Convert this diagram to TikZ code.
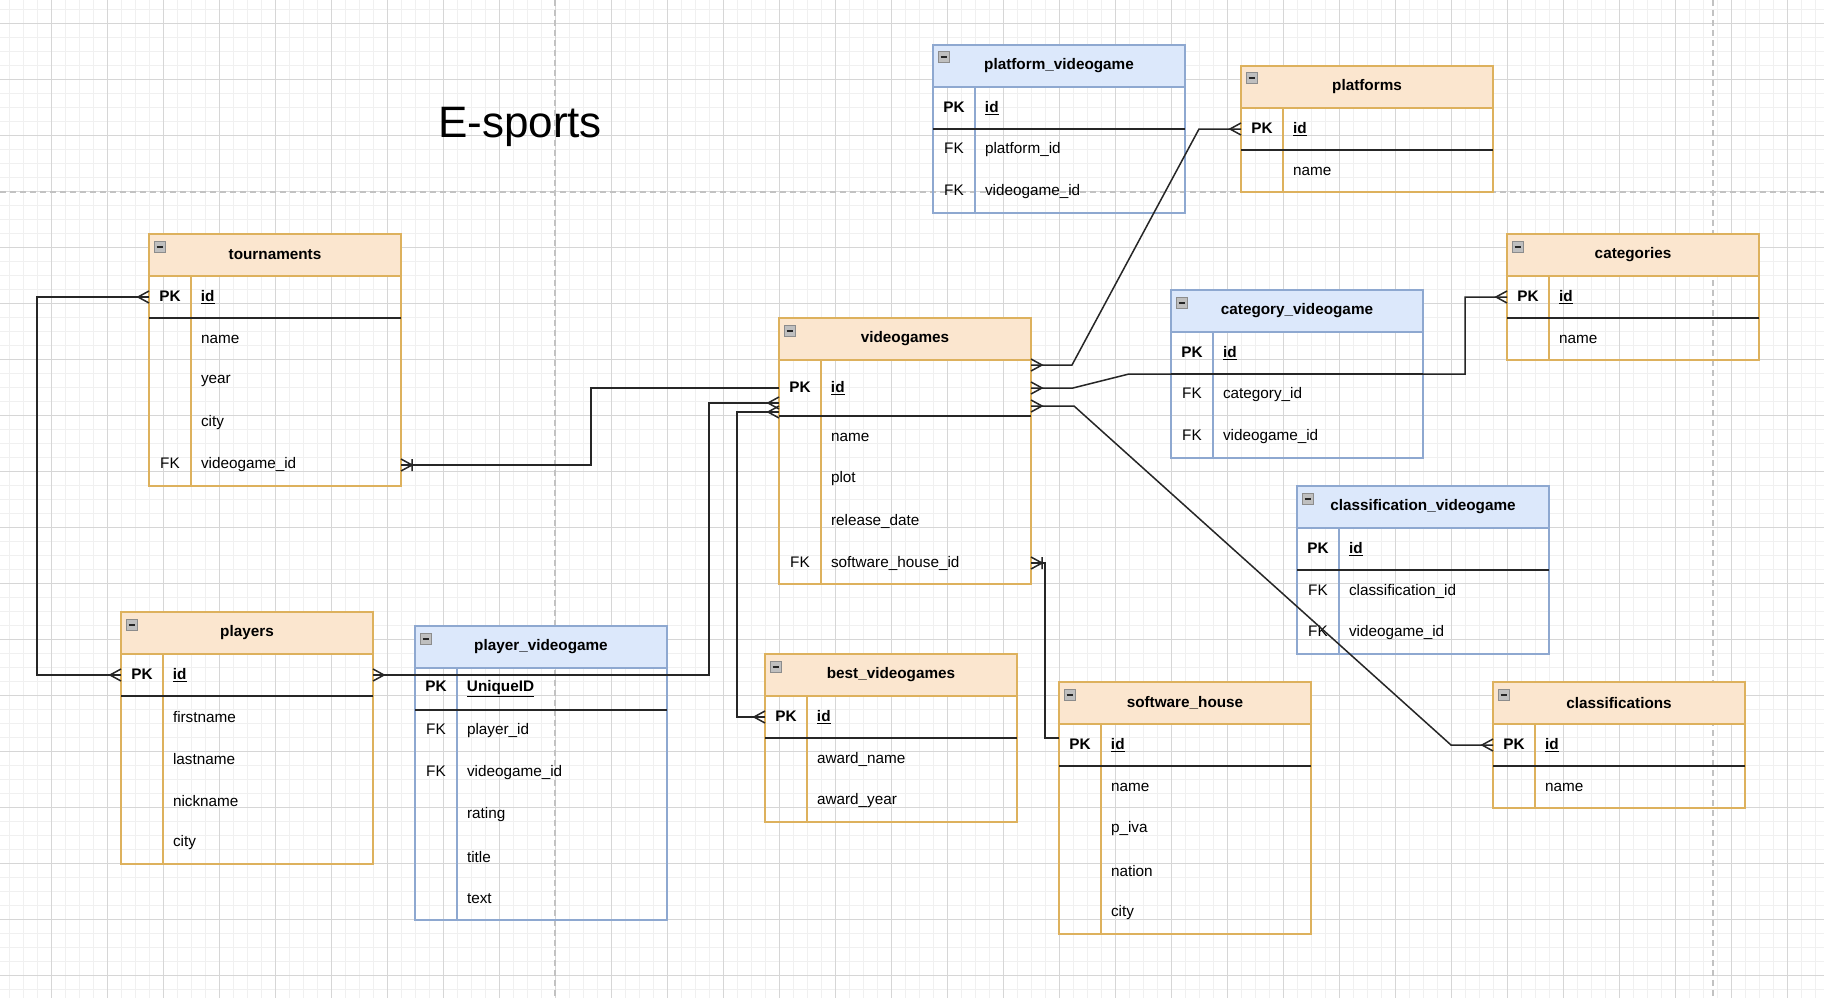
\documentclass[tikz,border=0pt]{standalone}
\usepackage{fontspec}
\setmainfont{Liberation Sans}
\usetikzlibrary{positioning}

\definecolor{orfill}{HTML}{FBE6CF}
\definecolor{ordraw}{HTML}{DDB15D}
\definecolor{blfill}{HTML}{DCE8FB}
\definecolor{bldraw}{HTML}{8EA8D0}
\definecolor{gridmaj}{HTML}{D6D6D6}
\definecolor{gridmin}{HTML}{F0F0F0}
\definecolor{pagebrk}{HTML}{C2C2C2}
\definecolor{connc}{HTML}{262626}

\newcommand{\erkey}[2]{\makebox[42pt]{#1}\hspace{10pt}#2}
\newcommand{\erpk}[1]{\erkey{\textbf{PK}}{\textbf{\underline{#1}}}}
\newcommand{\erfk}[1]{\erkey{FK}{#1}}
\newcommand{\erfld}[1]{\erkey{}{#1}}

\begin{document}
\begin{tikzpicture}[x=1pt,y=-1pt,
  every node/.style={font=\fontsize{15.3}{18}\selectfont},
  hdr/.style={anchor=north west,minimum width=252,minimum height=42,inner sep=0pt,outer sep=0pt,line width=2pt,font=\fontsize{15.3}{18}\selectfont\bfseries},
  orhdr/.style={hdr,fill=orfill,draw=ordraw},
  blhdr/.style={hdr,fill=blfill,draw=bldraw},
  fld/.style={minimum width=252,minimum height=42,text width=252pt,align=left,inner sep=0pt,outer sep=0pt},
  orline/.style={draw=ordraw,line width=2pt},
  blline/.style={draw=bldraw,line width=2pt},
  pksep/.style={draw=black!85,line width=2pt},
  conn/.style={draw=connc,line width=1.5pt},
  pagebreak/.style={draw=pagebrk,line width=1.5pt,dash pattern=on 6pt off 4pt},
  many/.pic={\draw[conn] (0,-6) -- (-11,0) -- (0,6);},
  onemany/.pic={\draw[conn] (0,-6) -- (-11,0) -- (0,6) (-11,-6) -- (-11,6);},
  minus/.pic={\draw[fill=gray!50,draw=gray!90,line width=1pt] (5,7) rectangle (16,18);
    \draw[line width=2pt,black!85] (7.5,12.5) -- (13.5,12.5);}
]
\useasboundingbox (0,0) rectangle (1824,998);
\fill[white] (0,0) rectangle (1824,998);

% grid
\foreach \gx in {9,23,...,1823} \draw[gridmin,line width=0.8pt] (\gx,0) -- (\gx,998);
\foreach \gy in {9.5,23.5,...,997.5} \draw[gridmin,line width=0.8pt] (0,\gy) -- (1824,\gy);
\foreach \gx in {51,107,...,1823} \draw[gridmaj,line width=1pt] (\gx,0) -- (\gx,998);
\foreach \gy in {23.5,79.5,...,997.5} \draw[gridmaj,line width=1pt] (0,\gy) -- (1824,\gy);
\draw[pagebreak] (555,0) -- (555,998);
\draw[pagebreak] (1713,0) -- (1713,998);
\draw[pagebreak] (0,192) -- (1824,192);

\node[anchor=base,font=\fontsize{44}{50}\selectfont] (title) at (520,137) {E-sports};

% platform_videogame
\node[blhdr] (pv) at (933,45) {platform\_videogame};
\node[fld,below=0pt of pv] (pv-id) {\erpk{id}};
\node[fld,below=0pt of pv-id] (pv-platid) {\erfk{platform\_id}};
\node[fld,below=0pt of pv-platid] (pv-vgid) {\erfk{videogame\_id}};
\draw[blline] (pv.north west) rectangle (pv-vgid.south east);
\draw[blline] ([xshift=42pt]pv.south west) -- ([xshift=42pt]pv-vgid.south west);
\draw[pksep] (pv-id.south west) -- (pv-id.south east);
\pic at (pv.north west) {minus};

% platforms
\node[orhdr] (plat) at (1241,66) {platforms};
\node[fld,below=0pt of plat] (plat-id) {\erpk{id}};
\node[fld,below=0pt of plat-id] (plat-name) {\erfld{name}};
\draw[orline] (plat.north west) rectangle (plat-name.south east);
\draw[orline] ([xshift=42pt]plat.south west) -- ([xshift=42pt]plat-name.south west);
\draw[pksep] (plat-id.south west) -- (plat-id.south east);
\pic at (plat.north west) {minus};

% tournaments
\node[orhdr] (tour) at (149,234) {tournaments};
\node[fld,below=0pt of tour] (tour-id) {\erpk{id}};
\node[fld,below=0pt of tour-id] (tour-name) {\erfld{name}};
\node[fld,below=0pt of tour-name] (tour-year) {\erfld{year}};
\node[fld,below=0pt of tour-year] (tour-city) {\erfld{city}};
\node[fld,below=0pt of tour-city] (tour-vgid) {\erfk{videogame\_id}};
\draw[orline] (tour.north west) rectangle (tour-vgid.south east);
\draw[orline] ([xshift=42pt]tour.south west) -- ([xshift=42pt]tour-vgid.south west);
\draw[pksep] (tour-id.south west) -- (tour-id.south east);
\pic at (tour.north west) {minus};

% categories
\node[orhdr] (cat) at (1507,234) {categories};
\node[fld,below=0pt of cat] (cat-id) {\erpk{id}};
\node[fld,below=0pt of cat-id] (cat-name) {\erfld{name}};
\draw[orline] (cat.north west) rectangle (cat-name.south east);
\draw[orline] ([xshift=42pt]cat.south west) -- ([xshift=42pt]cat-name.south west);
\draw[pksep] (cat-id.south west) -- (cat-id.south east);
\pic at (cat.north west) {minus};

% category_videogame
\node[blhdr] (cv) at (1171,290) {category\_videogame};
\node[fld,below=0pt of cv] (cv-id) {\erpk{id}};
\node[fld,below=0pt of cv-id] (cv-catid) {\erfk{category\_id}};
\node[fld,below=0pt of cv-catid] (cv-vgid) {\erfk{videogame\_id}};
\draw[blline] (cv.north west) rectangle (cv-vgid.south east);
\draw[blline] ([xshift=42pt]cv.south west) -- ([xshift=42pt]cv-vgid.south west);
\draw[pksep] (cv-id.south west) -- (cv-id.south east);
\pic at (cv.north west) {minus};

% videogames
\node[orhdr] (vg) at (779,318) {videogames};
\node[fld,below=0pt of vg,minimum height=56] (vg-id) {\erpk{id}};
\node[fld,below=0pt of vg-id] (vg-name) {\erfld{name}};
\node[fld,below=0pt of vg-name] (vg-plot) {\erfld{plot}};
\node[fld,below=0pt of vg-plot] (vg-date) {\erfld{release\_date}};
\node[fld,below=0pt of vg-date] (vg-shid) {\erfk{software\_house\_id}};
\draw[orline] (vg.north west) rectangle (vg-shid.south east);
\draw[orline] ([xshift=42pt]vg.south west) -- ([xshift=42pt]vg-shid.south west);
\draw[pksep] (vg-id.south west) -- (vg-id.south east);
\pic at (vg.north west) {minus};

% classification_videogame
\node[blhdr] (clv) at (1297,486) {classification\_videogame};
\node[fld,below=0pt of clv] (clv-id) {\erpk{id}};
\node[fld,below=0pt of clv-id] (clv-clid) {\erfk{classification\_id}};
\node[fld,below=0pt of clv-clid] (clv-vgid) {\erfk{videogame\_id}};
\draw[blline] (clv.north west) rectangle (clv-vgid.south east);
\draw[blline] ([xshift=42pt]clv.south west) -- ([xshift=42pt]clv-vgid.south west);
\draw[pksep] (clv-id.south west) -- (clv-id.south east);
\pic at (clv.north west) {minus};

% players
\node[orhdr] (pl) at (121,612) {players};
\node[fld,below=0pt of pl] (pl-id) {\erpk{id}};
\node[fld,below=0pt of pl-id] (pl-first) {\erfld{firstname}};
\node[fld,below=0pt of pl-first] (pl-last) {\erfld{lastname}};
\node[fld,below=0pt of pl-last] (pl-nick) {\erfld{nickname}};
\node[fld,below=0pt of pl-nick] (pl-city) {\erfld{city}};
\draw[orline] (pl.north west) rectangle (pl-city.south east);
\draw[orline] ([xshift=42pt]pl.south west) -- ([xshift=42pt]pl-city.south west);
\draw[pksep] (pl-id.south west) -- (pl-id.south east);
\pic at (pl.north west) {minus};

% player_videogame
\node[blhdr] (plv) at (415,626) {player\_videogame};
\node[fld,below=0pt of plv] (plv-id) {\erpk{UniqueID}};
\node[fld,below=0pt of plv-id] (plv-plid) {\erfk{player\_id}};
\node[fld,below=0pt of plv-plid] (plv-vgid) {\erfk{videogame\_id}};
\node[fld,below=0pt of plv-vgid] (plv-rating) {\erfld{rating}};
\node[fld,below=0pt of plv-rating] (plv-title) {\erfld{title}};
\node[fld,below=0pt of plv-title] (plv-text) {\erfld{text}};
\draw[blline] (plv.north west) rectangle (plv-text.south east);
\draw[blline] ([xshift=42pt]plv.south west) -- ([xshift=42pt]plv-text.south west);
\draw[pksep] (plv-id.south west) -- (plv-id.south east);
\pic at (plv.north west) {minus};

% best_videogames
\node[orhdr] (bv) at (765,654) {best\_videogames};
\node[fld,below=0pt of bv] (bv-id) {\erpk{id}};
\node[fld,below=0pt of bv-id] (bv-name) {\erfld{award\_name}};
\node[fld,below=0pt of bv-name] (bv-year) {\erfld{award\_year}};
\draw[orline] (bv.north west) rectangle (bv-year.south east);
\draw[orline] ([xshift=42pt]bv.south west) -- ([xshift=42pt]bv-year.south west);
\draw[pksep] (bv-id.south west) -- (bv-id.south east);
\pic at (bv.north west) {minus};

% software_house
\node[orhdr] (sh) at (1059,682) {software\_house};
\node[fld,below=0pt of sh] (sh-id) {\erpk{id}};
\node[fld,below=0pt of sh-id] (sh-name) {\erfld{name}};
\node[fld,below=0pt of sh-name] (sh-piva) {\erfld{p\_iva}};
\node[fld,below=0pt of sh-piva] (sh-nation) {\erfld{nation}};
\node[fld,below=0pt of sh-nation] (sh-city) {\erfld{city}};
\draw[orline] (sh.north west) rectangle (sh-city.south east);
\draw[orline] ([xshift=42pt]sh.south west) -- ([xshift=42pt]sh-city.south west);
\draw[pksep] (sh-id.south west) -- (sh-id.south east);
\pic at (sh.north west) {minus};

% classifications
\node[orhdr] (cl) at (1493,682) {classifications};
\node[fld,below=0pt of cl] (cl-id) {\erpk{id}};
\node[fld,below=0pt of cl-id] (cl-name) {\erfld{name}};
\draw[orline] (cl.north west) rectangle (cl-name.south east);
\draw[orline] ([xshift=42pt]cl.south west) -- ([xshift=42pt]cl-name.south west);
\draw[pksep] (cl-id.south west) -- (cl-id.south east);
\pic at (cl.north west) {minus};

% relations
\draw[conn] (tour-id.west) -- ++(-112,0) |- (pl-id.west);
\pic at (tour-id.west) {many};
\pic at (pl-id.west) {many};
\draw[conn] (tour-vgid.east) -- ++(190,0) |- (vg-id.west);
\pic[xscale=-1] at (tour-vgid.east) {onemany};
\draw[conn] (pl-id.east) -- ++(336,0) |- ([yshift=-15pt]vg-id.west);
\pic[xscale=-1] at (pl-id.east) {many};
\pic at ([yshift=-15pt]vg-id.west) {many};
\draw[conn] (bv-id.west) -- ++(-28,0) |- ([yshift=-24pt]vg-id.west);
\pic at (bv-id.west) {many};
\pic at ([yshift=-24pt]vg-id.west) {many};
\draw[conn] (vg-shid.east) -- ++(14,0) |- ([yshift=7pt]sh-id.west);
\pic[xscale=-1] at (vg-shid.east) {onemany};
\draw[conn] ([yshift=23pt]vg-id.east) -- ++(41,0) -- ([xshift=-42pt]plat-id.west) -- (plat-id.west);
\pic[xscale=-1] at ([yshift=23pt]vg-id.east) {many};
\pic at (plat-id.west) {many};
\draw[conn] (vg-id.east) -- ++(42,0) -- ([xshift=-42pt]cv-id.south west) -| ([xshift=-42pt]cat-id.west) -- (cat-id.west);
\pic[xscale=-1] at (vg-id.east) {many};
\pic at (cat-id.west) {many};
\draw[conn] ([yshift=-18pt]vg-id.east) -- ++(43,0) -- ([xshift=-42pt]cl-id.west) -- (cl-id.west);
\pic[xscale=-1] at ([yshift=-18pt]vg-id.east) {many};
\pic at (cl-id.west) {many};
\end{tikzpicture}
\end{document}
